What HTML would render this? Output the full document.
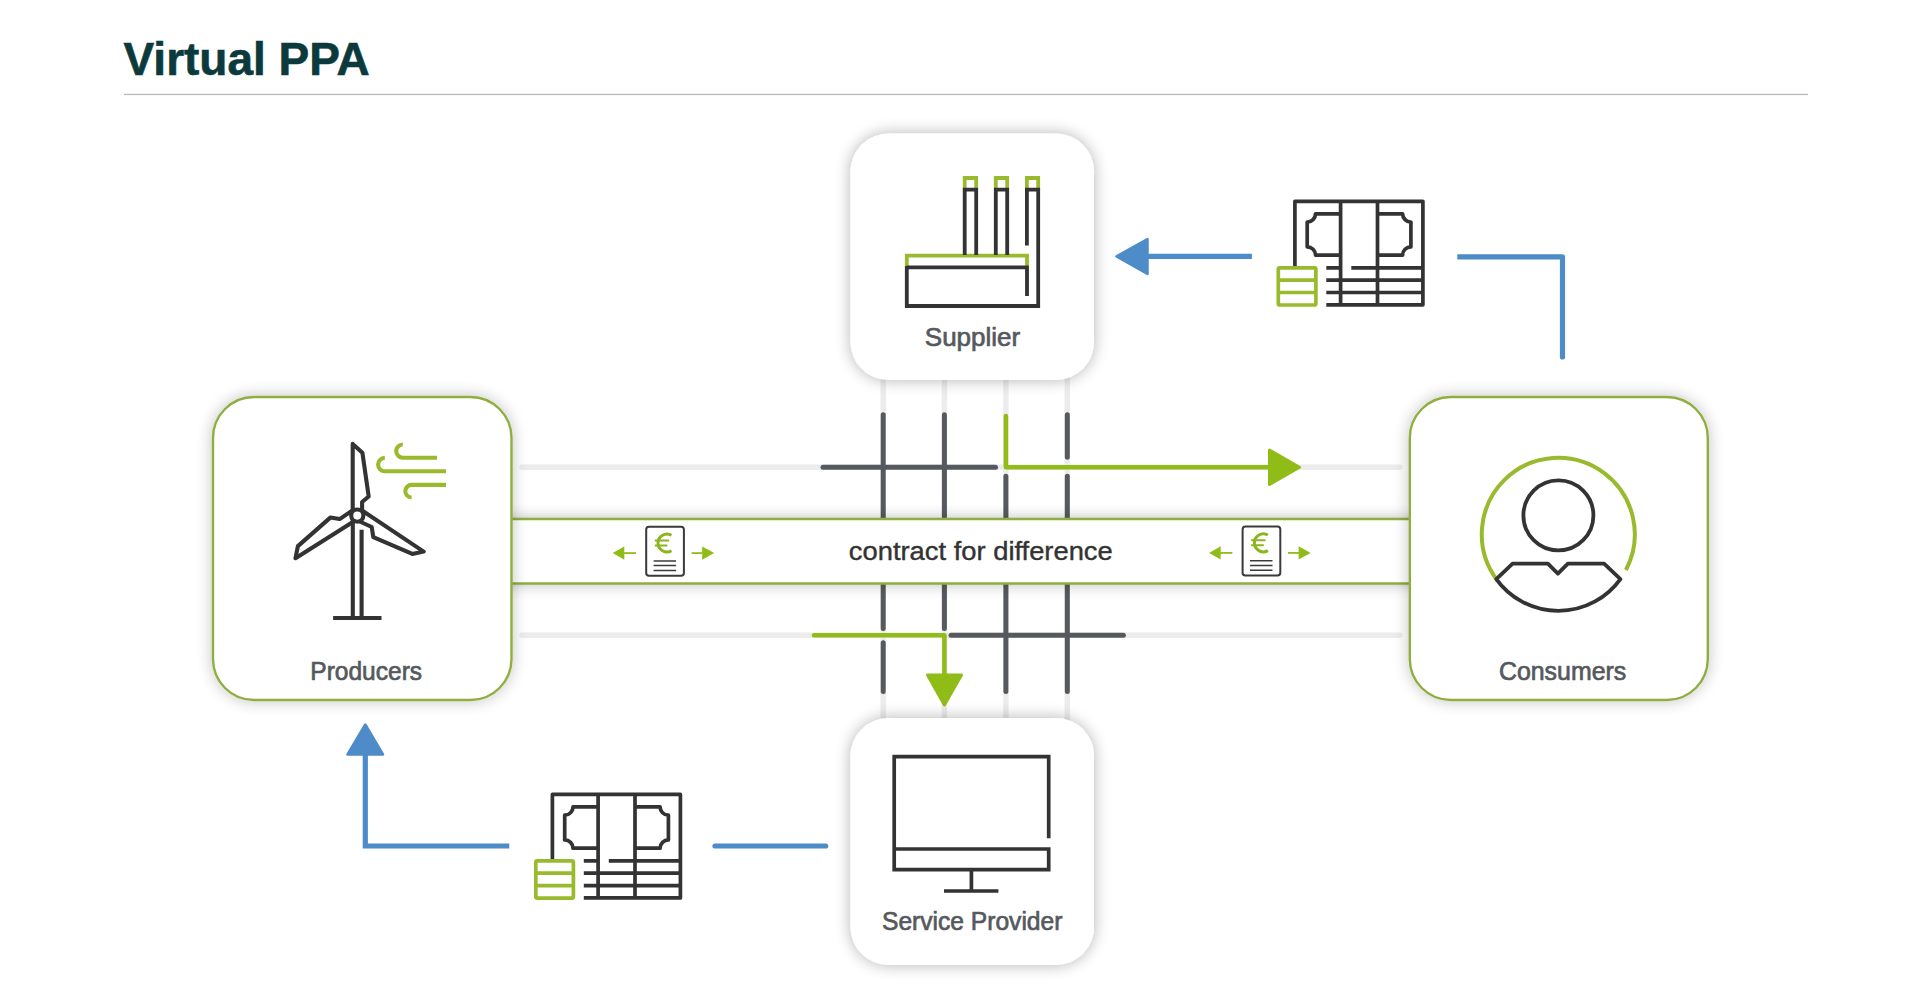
<!DOCTYPE html>
<html><head><meta charset="utf-8">
<style>
html,body{margin:0;padding:0;background:#fff;width:1920px;height:993px;overflow:hidden}
svg{position:absolute;left:0;top:0}
text{font-family:"Liberation Sans",sans-serif}
</style></head>
<body>
<svg width="1920" height="993" viewBox="0 0 1920 993">
<defs>
 <filter id="sh" x="-20%" y="-20%" width="140%" height="140%">
  <feGaussianBlur in="SourceAlpha" stdDeviation="8"/>
  <feComponentTransfer><feFuncA type="linear" slope="0.30"/></feComponentTransfer>
  <feMerge><feMergeNode/><feMergeNode in="SourceGraphic"/></feMerge>
 </filter>
 <filter id="sh2" x="-20%" y="-20%" width="140%" height="140%">
  <feGaussianBlur in="SourceAlpha" stdDeviation="8"/>
  <feComponentTransfer><feFuncA type="linear" slope="0.24"/></feComponentTransfer>
  <feMerge><feMergeNode/><feMergeNode in="SourceGraphic"/></feMerge>
 </filter>
 <filter id="shb" x="-5%" y="-60%" width="110%" height="220%">
  <feGaussianBlur in="SourceAlpha" stdDeviation="8"/>
  <feComponentTransfer><feFuncA type="linear" slope="0.30"/></feComponentTransfer>
  <feMerge><feMergeNode/><feMergeNode in="SourceGraphic"/></feMerge>
 </filter>
 <g id="money" fill="none" stroke-width="3.7" stroke-linejoin="round">
  <g stroke="#333">
   <path d="M0 66 V0 H128 V103.5 H31.4"/>
   <path d="M45.7 0 V103.5 M82.6 0 V103.5"/>
   <path d="M45.7 12.5 H20.6 A8.3 8.3 0 0 1 12.3 20.8 V45.5 A8.3 8.3 0 0 1 20.6 53.8 H45.7"/>
   <path d="M82.6 12.5 H107.7 A8.3 8.3 0 0 0 116 20.8 V45.5 A8.3 8.3 0 0 0 107.7 53.8 H82.6"/>
   <path d="M31.4 66.5 H45.7 M56.4 66.5 H128 M31.4 78.8 H128 M31.4 91.2 H128"/>
  </g>
  <g stroke="#9aba2e">
   <rect x="-16.6" y="66.5" width="37.6" height="37.2" rx="1.5"/>
   <path d="M-16.6 78.8 H21 M-16.6 91.2 H21"/>
  </g>
 </g>
 <g id="doc">
  <rect x="0" y="0" width="37.7" height="49" rx="2.8" fill="none" stroke="#3a3a3a" stroke-width="2"/>
  <path d="M7.4 34.2 H29.9 M7.4 38.8 H29.9 M7.4 43.7 H29.9" stroke="#3a3a3a" stroke-width="1.5" fill="none"/>
  <g fill="none" stroke="#8cb51e"><path d="M25.3 8.4 A9 9 0 1 0 25.3 24" stroke-width="3"/><path d="M8.6 13.7 H22.9 M8.6 18.7 H21.2" stroke-width="2"/></g>
  <g fill="#8fbc16" stroke="none">
   <path d="M-33.5 26.3 L-21.9 19.6 V33 Z"/>
   <rect x="-22.5" y="25.4" width="12.3" height="1.8"/>
   <path d="M68 26.3 L56 19.6 V33 Z"/>
   <rect x="45.4" y="25.4" width="11" height="1.8"/>
  </g>
 </g>
</defs>

<!-- title -->
<text x="123.5" y="75" font-size="46" font-weight="bold" fill="#0c3a3c" stroke="#0c3a3c" stroke-width="0.6">Virtual PPA</text>
<rect x="124" y="93.8" width="1684" height="1.3" fill="#b8b8b8"/>

<!-- light tracks -->
<g stroke="#ececec" stroke-width="5.4" stroke-linecap="round" fill="none">
 <path d="M522 467.3 H1400 M522 635.3 H1400"/>
 <path d="M883.2 360 V740 M944.4 360 V740 M1005.9 360 V740 M1067.3 360 V740"/>
</g>

<!-- dark grid -->
<g stroke="#565a5f" stroke-width="5" stroke-linecap="round" fill="none">
 <path d="M883.2 414.7 V530 M944.4 414.7 V530 M1067.3 414.7 V457.2 M1067.3 476.2 V530 M1005.9 476.2 V530"/>
 <path d="M823 467.3 H995.5"/>
 <path d="M883.2 570 V628.4 M883.2 642.8 V691.6 M944.4 570 V628.4 M1005.9 570 V691.6 M1067.3 570 V691.6"/>
 <path d="M951 635.3 H1123.4"/>
</g>
<!-- green flow arrows -->
<g stroke="#8fbc16" stroke-width="4.6" stroke-linecap="round" stroke-linejoin="round" fill="none">
 <path d="M1005.9 416 V467.3 H1275"/>
 <path d="M814 635.3 H944.4 V680"/>
</g>
<g fill="#8fbc16" stroke="#8fbc16" stroke-width="3" stroke-linejoin="round">
 <path d="M1269.5 450 L1299.5 467.2 L1269.5 484.5 Z"/>
 <path d="M927.5 675 L961.5 675 L944.4 705 Z"/>
</g>
<!-- band -->
<g filter="url(#shb)">
 <rect x="480" y="519" width="960" height="64.5" fill="#fff"/>
</g>
<path d="M480 519 H1440 M480 583.5 H1440" stroke="#8fae40" stroke-width="2.4"/>

<!-- blue arrows -->
<g stroke="#4d8cc8" stroke-width="5.2" fill="none" stroke-linejoin="miter">
 <path d="M1145 256.4 H1251.9" stroke-linecap="butt"/>
 <path d="M1457.3 256.8 H1562.5 V357" stroke-linecap="butt" stroke-linejoin="round"/>
 <circle cx="1562.5" cy="357" r="2.6" fill="#4d8cc8" stroke="none"/>
 <path d="M365.3 752 V846 H509.3" stroke-linecap="butt"/>
 <path d="M715 846 H825.7" stroke-linecap="round"/>
</g>
<g fill="#4d8cc8" stroke="#4d8cc8" stroke-width="2.5" stroke-linejoin="round">
 <path d="M1116.5 256.4 L1147.5 239 V274 Z"/>
 <path d="M365.3 724.5 L383 754.5 H347.5 Z"/>
</g>

<!-- money icons -->
<use href="#money" x="1294.9" y="201.3"/>
<use href="#money" x="552.4" y="794.4"/>

<!-- docs -->
<use href="#doc" x="646.2" y="526.8"/>
<use href="#doc" x="1242.6" y="526.6"/>
<text x="980.8" y="560" text-anchor="middle" font-size="26.5" fill="#333" stroke="#333" stroke-width="0.4" textLength="263.9" lengthAdjust="spacingAndGlyphs">contract for difference</text>

<!-- boxes -->
<g filter="url(#sh)">
 <rect x="850.5" y="133.5" width="243.5" height="246.5" rx="38" fill="#fff"/>
 <rect x="850.5" y="718" width="243.5" height="247" rx="38" fill="#fff"/>
</g>
<g filter="url(#sh2)">
 <rect x="213" y="397" width="298.5" height="303" rx="41" fill="#fff" stroke="#8fae40" stroke-width="2.4"/>
 <rect x="1409.8" y="397" width="298" height="303" rx="41" fill="#fff" stroke="#8fae40" stroke-width="2.4"/>
</g>

<!-- factory icon -->
<g fill="none" stroke-width="3.8" stroke-linejoin="miter">
 <g stroke="#9aba2e">
  <path d="M906.8 266 V255.6 H1027 V266"/>
  <path d="M964.7 189.6 V178 H976.2 V189.6 M995.8 189.6 V178 H1007.2 V189.6 M1026.9 189.6 V178 H1038.2 V189.6"/>
 </g>
 <g stroke="#333">
  <path d="M906.8 266 V306 H1038.2 V189.6 H1026.9 V245.5"/>
  <path d="M906.8 267.4 H1027 V296"/>
  <path d="M964.7 255 V189.6 H976.2 V255 M995.8 255 V189.6 H1007.2 V255"/>
 </g>
</g>
<text x="972.5" y="346" text-anchor="middle" font-size="26" fill="#55595d" stroke="#55595d" stroke-width="0.7">Supplier</text>

<!-- monitor icon -->
<g fill="none" stroke="#333" stroke-width="3.7">
 <path d="M1048.7 838.3 V756.6 H894.2 V869.7 H1048.7 V849 H894.2"/>
 <path d="M971.4 869.7 V891 M944 891 H998.4"/>
</g>
<text x="972.2" y="930.4" text-anchor="middle" font-size="26" fill="#55595d" stroke="#55595d" stroke-width="0.7" textLength="180.4" lengthAdjust="spacingAndGlyphs">Service Provider</text>

<!-- windmill -->
<g fill="none" stroke="#333" stroke-width="4.1" stroke-linejoin="round">
 <path d="M352.7 514 V443.9 L362.4 452.7 L368.7 496.5 L362.1 502 V512"/>
 <path d="M354.7 508.9 L339.7 519.1 L330.3 517.6 L297.9 546.1 L295.5 558.2 L355.6 520.3"/>
 <path d="M360.6 509.5 L423.7 551.6 L412.3 553.9 L373.3 537.1 L371.7 527 L358.7 521"/>
 <path d="M352.8 518 V618 M361.6 529.7 V618" stroke-linejoin="miter"/>
 <path d="M333.1 618 H381.5" stroke-width="4"/>
 <circle cx="357.3" cy="515.6" r="6.1" fill="#fff"/>
</g>
<g fill="none" stroke="#9aba2e" stroke-width="4.1">
 <path d="M402.8 444.5 A6.6 6.6 0 0 0 402.8 457.7 H437"/>
 <path d="M384.8 457.9 A6.7 6.7 0 0 0 384.8 471.3 H446"/>
 <path d="M446 484.9 H411.6 A6.3 6.3 0 0 0 411.6 497.5"/>
</g>
<text x="366.2" y="679.7" text-anchor="middle" font-size="26" fill="#55595d" stroke="#55595d" stroke-width="0.7" textLength="111.8" lengthAdjust="spacingAndGlyphs">Producers</text>

<!-- consumer icon -->
<g fill="none" stroke-width="3.8" stroke-linejoin="round">
 <path d="M1496.3 579.1 A76.5 76.5 0 1 1 1625.9 570" stroke="#9aba2e" stroke-width="4"/>
 <g stroke="#333">
  <circle cx="1558.4" cy="515.4" r="35"/>
  <path d="M1496.3 579.1 L1512.6 563.7 H1547.9 L1557.9 573.7 L1567.9 563.7 H1604.1 L1620.4 579.1 A76.5 76.5 0 0 1 1496.3 579.1 Z"/>
 </g>
</g>
<text x="1562.6" y="679.7" text-anchor="middle" font-size="26" fill="#55595d" stroke="#55595d" stroke-width="0.7" textLength="127.3" lengthAdjust="spacingAndGlyphs">Consumers</text>
</svg>
</body></html>
